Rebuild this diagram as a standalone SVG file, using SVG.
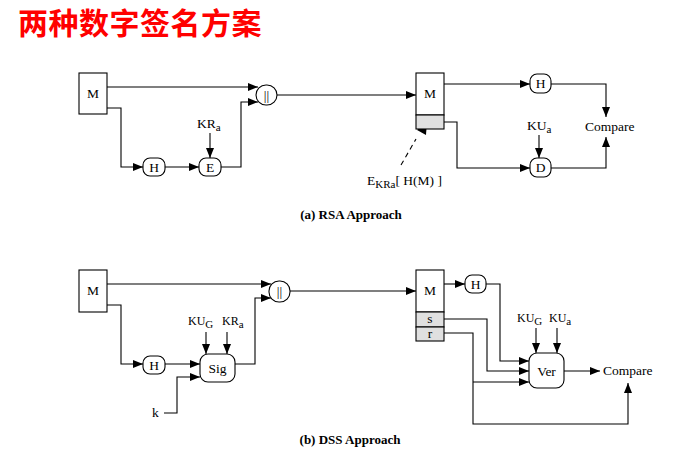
<svg xmlns="http://www.w3.org/2000/svg" width="687" height="459" viewBox="0 0 687 459">
<style>
.n{fill:#fff;stroke:#000;stroke-width:1.1}
.g{fill:#e0e0e0;stroke:#000;stroke-width:1.1}
.t{font-family:"Liberation Serif","Times New Roman",serif;font-size:13.5px;fill:#000}
.c{text-anchor:middle}
.s{font-size:11px}
.k{font-size:12px}
.cap{font-family:"Liberation Serif","Times New Roman",serif;font-size:13px;font-weight:bold;fill:#000;text-anchor:middle}
.w{fill:none;stroke:#000;stroke-width:1.1}
</style>
<defs>
<marker id="ah" viewBox="0 0 10 8" refX="10" refY="4" markerWidth="10" markerHeight="8" orient="auto" markerUnits="userSpaceOnUse">
<path d="M0,0 L10,4 L0,8 Z" fill="#000"/>
</marker>
</defs>
<rect width="687" height="459" fill="#fff"/>
<text x="18" y="34" font-family="'Noto Sans CJK SC',sans-serif" font-size="30" font-weight="bold" letter-spacing="0.5" fill="#ff0000">两种数字签名方案</text>

<g id="connectors">
<path class="w" d="M107,87 H258" marker-end="url(#ah)"/>
<path class="w" d="M107,108 H121 V167 H143" marker-end="url(#ah)"/>
<path class="w" d="M165,167 H199" marker-end="url(#ah)"/>
<path class="w" d="M210,133 V158" marker-end="url(#ah)"/>
<path class="w" d="M221,167 H241 V102 H258" marker-end="url(#ah)"/>
<path class="w" d="M277,95 H416" marker-end="url(#ah)"/>
<path class="w" d="M444,84 H530" marker-end="url(#ah)"/>
<path class="w" d="M551,84 H606 V117" marker-end="url(#ah)"/>
<path class="w" d="M444,122 H457 V168 H530" marker-end="url(#ah)"/>
<path class="w" d="M539,135 V158" marker-end="url(#ah)"/>
<path class="w" d="M551,168 H606 V137" marker-end="url(#ah)"/>
<path class="w" d="M401,165 L416,139" stroke-dasharray="5,4"/>
<path d="M417,130 L427,121 L426,135 Z" fill="#000"/>

<path class="w" d="M107,284 H271" marker-end="url(#ah)"/>
<path class="w" d="M107,305 H121 V364 H143" marker-end="url(#ah)"/>
<path class="w" d="M165,364 H200" marker-end="url(#ah)"/>
<path class="w" d="M164,413 H177 V377 H200" marker-end="url(#ah)"/>
<path class="w" d="M206,332 V354" marker-end="url(#ah)"/>
<path class="w" d="M227,332 V354" marker-end="url(#ah)"/>
<path class="w" d="M235,364 H255 V298 H271" marker-end="url(#ah)"/>
<path class="w" d="M290,291 H416" marker-end="url(#ah)"/>
<path class="w" d="M444,284 H465" marker-end="url(#ah)"/>
<path class="w" d="M486,284 H500 V361 H529" marker-end="url(#ah)"/>
<path class="w" d="M444,319 H487 V371 H529" marker-end="url(#ah)"/>
<path class="w" d="M444,333 H473 V424 H628 V383" marker-end="url(#ah)"/>
<path class="w" d="M473,382 H529" marker-end="url(#ah)"/>
<path class="w" d="M536,328 V353" marker-end="url(#ah)"/>
<path class="w" d="M557,328 V353" marker-end="url(#ah)"/>
<path class="w" d="M564,371 H600" marker-end="url(#ah)"/>
</g>

<g id="rsa-M"><rect class="n" x="79" y="73" width="28" height="41"/><text class="t c" x="93" y="98">M</text></g>
<g id="rsa-H"><rect class="n" x="143" y="158" width="22" height="18" rx="7"/><text class="t c" x="154" y="172">H</text></g>
<g id="rsa-E"><rect class="n" x="199" y="158" width="22" height="18" rx="7"/><text class="t c" x="210" y="172">E</text></g>
<g id="rsa-KRa"><text class="t" x="197" y="128">KR<tspan class="s" dy="3">a</tspan></text></g>
<g id="rsa-concat"><rect class="n" x="256" y="85" width="21" height="20" rx="10"/><text class="t c" x="266.5" y="100" fill="#555">||</text></g>
<g id="rsa-M2"><rect class="n" x="416" y="73" width="28" height="42"/><rect class="g" x="416" y="115" width="28" height="14"/><text class="t c" x="430" y="98">M</text></g>
<g id="rsa-H2"><rect class="n" x="530" y="74" width="21" height="19" rx="7"/><text class="t c" x="540.5" y="88">H</text></g>
<g id="rsa-D"><rect class="n" x="530" y="158" width="21" height="19" rx="7"/><text class="t c" x="540.5" y="172">D</text></g>
<g id="rsa-KUa"><text class="t" x="527" y="130">KU<tspan class="s" dy="3">a</tspan></text></g>
<g id="rsa-compare"><text class="t" x="585" y="131">Compare</text></g>
<g id="rsa-sig"><text class="t" x="367" y="185">E<tspan class="s" dy="3">KRa</tspan><tspan dy="-3">[ H(M) ]</tspan></text></g>
<text class="cap" x="351" y="219">(a) RSA Approach</text>

<g id="dss-M"><rect class="n" x="79" y="270" width="28" height="42"/><text class="t c" x="93" y="295">M</text></g>
<g id="dss-concat"><rect class="n" x="269" y="281" width="21" height="21" rx="10"/><text class="t c" x="279.5" y="296" fill="#555">||</text></g>
<g id="dss-H"><rect class="n" x="143" y="356" width="22" height="18" rx="7"/><text class="t c" x="154" y="370">H</text></g>
<g id="dss-Sig"><rect class="n" x="200" y="354" width="35" height="28" rx="8"/><text class="t c" x="217.5" y="373">Sig</text></g>
<g id="dss-KUG"><text class="t k" x="188" y="325">KU<tspan class="s" dy="3">G</tspan></text></g>
<g id="dss-KRa"><text class="t k" x="222" y="325">KR<tspan class="s" dy="3">a</tspan></text></g>
<g id="dss-k"><text class="t" x="152" y="417">k</text></g>
<g id="dss-M2"><rect class="n" x="416" y="270" width="28" height="42"/><rect class="g" x="416" y="312" width="28" height="15"/><rect class="g" x="416" y="327" width="28" height="14"/><text class="t c" x="430" y="295">M</text><text class="t c" x="430" y="323">s</text><text class="t c" x="430" y="338">r</text></g>
<g id="dss-H2"><rect class="n" x="465" y="275" width="21" height="18" rx="7"/><text class="t c" x="475.5" y="289">H</text></g>
<g id="dss-Ver"><rect class="n" x="529" y="353" width="35" height="35" rx="8"/><text class="t c" x="546.5" y="376">Ver</text></g>
<g id="dss-KUG2"><text class="t k" x="517" y="322">KU<tspan class="s" dy="3">G</tspan></text></g>
<g id="dss-KUa"><text class="t k" x="549" y="322">KU<tspan class="s" dy="3">a</tspan></text></g>
<g id="dss-compare"><text class="t" x="603" y="375">Compare</text></g>
<text class="cap" x="350" y="444">(b) DSS Approach</text>
</svg>
